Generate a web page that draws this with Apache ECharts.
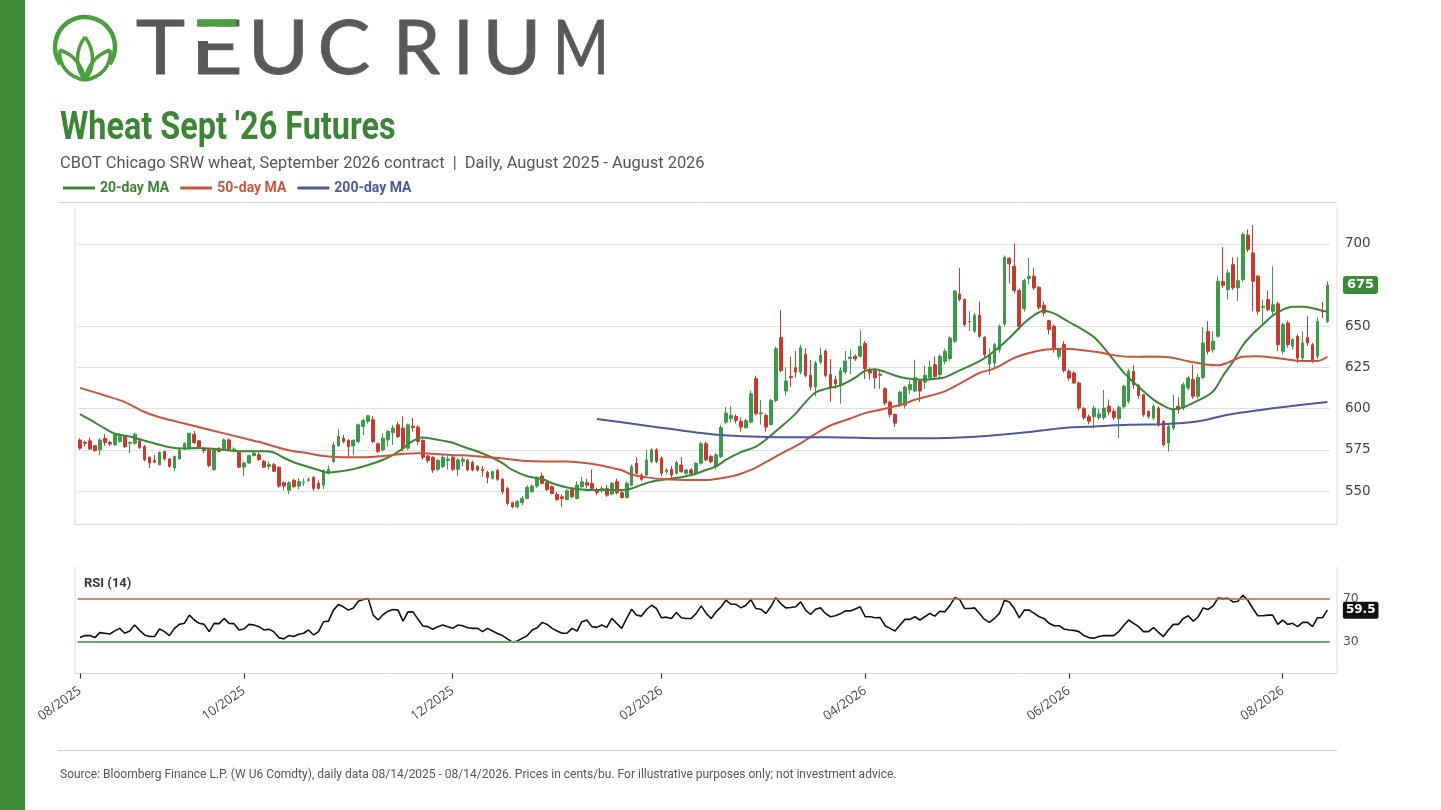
<!DOCTYPE html>
<html><head><meta charset="utf-8">
<script src="https://cdn.jsdelivr.net/npm/echarts@6/dist/echarts.min.js"></script>
<style>html,body{margin:0;padding:0;background:#fff}#c{width:1441px;height:810px}</style>
</head><body><div id="c"></div>
<script>
// ---------- data ----------
const startDate = '2025-08-14';
const endDate = '2026-08-14';
const holidays = ['2025-09-01','2025-11-27','2025-12-25','2026-01-01','2026-01-19','2026-02-16','2026-04-03','2026-05-25','2026-06-19','2026-07-03'];

const opens = [581,579.5,580.5,577.5,575,582,579.5,578,580,583,579,579,580.5,577,570.5,568.5,566,574,569.5,564,569.5,575.5,576,584.5,580.5,575.5,575,563,576,575,581,574.5,573.5,564.5,567,571.5,572,568,565,566,564.5,555,550.5,556.5,553,555,556.5,558.3,554.7,553.6,560.8,567.9,577.4,582.1,580.7,577.4,580.1,589.2,592.3,593.3,578.7,575,581.1,585.6,590.2,588.2,576,589.4,588.8,580.7,571.3,570.5,563.2,564.8,568.5,570.5,563.2,568,568.5,567.3,564.8,563.2,561.2,557.7,562.4,557.1,551.6,542.9,540.4,542.9,545.5,549.6,553,559.1,555.1,552.6,548,546.5,544.9,551,545.5,552.6,555.1,554.7,551,550.6,551.6,548.1,555.7,549,546.1,553.6,566.9,559.7,559.7,567.9,575,569.9,561.8,563.2,560.8,565.8,560.8,562.8,560.8,566.9,578.7,571,565,571,591.8,593.9,595.3,592.4,588.4,591.8,618.2,596.9,595.9,590.4,605,643.1,610.7,619.6,624.9,622.2,633,620.2,613.1,628.3,635,620.8,617.6,614.1,622.2,630.5,631.8,631.8,639.5,623.6,623.2,620.2,612.1,604,596.5,602,602,611.5,610.7,616.8,616.1,618.8,626.7,620.7,628.7,630.4,640.9,669.6,666.2,652.6,647,656.7,643.3,627.1,627.7,635.8,651.4,691.1,686.4,671.7,660.7,679,680.4,673.7,662.8,653.4,650,631.8,638.9,622.7,621.7,615.6,600,595.1,595.1,594.7,594.7,601.4,598.4,593.9,601.2,604.5,622.6,614,608.5,598.3,594.3,600.4,592.3,579.1,588.2,601.4,600.4,612.5,617.6,607.5,619,646.9,635.8,643.9,677.3,672.3,687.4,673.3,678.3,705.3,694.5,680.4,661.5,666.2,659.1,663.6,634.8,652,637.8,643.9,630.7,643.3,638.8,631.8,659.1,653];
const closes = [576,579,575.5,574.5,581,579.5,578.5,584,583,577,579.5,584.5,576.5,569,567,567.5,573.5,569.5,565,571,575,579,585,579.5,576.5,574.5,565.5,575,574,581,575,575.5,564.5,567,571.5,573,569,564.5,566,562,553,553,555,552.7,555.7,555.5,557,551.6,551.6,562.4,563.2,578,583.1,580.1,577,580.7,590.2,592.9,595.7,580.1,574,582.1,586.2,588.2,583.1,576,590.2,588.6,580.1,570.5,568.5,562.8,568.5,570.5,569.4,563.2,568.9,569.3,562.8,562.8,562.8,562.4,558.3,561.8,557.1,549.6,542.5,540.4,543.5,545.5,552.2,553,558.3,554.7,551,548.5,544.9,545.5,550.2,546.5,553.6,555.7,553.6,551.6,549,551.6,547.5,554.7,549,546.1,554.7,564.8,560.8,557.1,568.9,575,567.9,560.8,562.8,559.7,567.3,561.8,562.8,560.8,566.9,578.7,568.9,567.9,572,588.5,597.3,595.9,592.8,588.8,592.8,609.1,596.9,597.5,588.8,605,636.4,623.2,616.8,618.8,622.2,637,620.2,613.1,627.7,632.4,620.2,613.1,615.1,623.2,628.9,631.3,630.3,637.8,624.3,621.6,618.8,621,603.4,596.5,591.2,610.1,613.1,614.7,618.8,610.7,620.2,625.3,619.6,631.8,634.8,642.9,671.3,666.2,651,653,656.7,643.9,632.8,632.8,638.9,650,691.9,687.9,671.7,650,677.7,680.4,673.3,661.5,658.1,648,635.8,635.8,623.1,618.6,615.6,600.4,594.7,592.3,600.4,596.8,600.4,598,594.7,600.8,613.6,622.7,614.5,608,596.3,595.3,601.4,590.2,578.1,589.2,599.4,599.4,614.5,618.6,607.5,619,639.9,634.8,640.9,677.3,674.9,682.4,673.3,677.7,705.7,696.6,677.3,659.1,662.1,660.1,663.1,638.8,651,638.8,641.9,630.7,639.9,639.9,628.7,653,658.7,675];
const lows = [575,577,575,574,572,577.5,577.5,577.5,579.5,576,573,578,575.5,568,564,567,565.5,568.5,564,562,569,575,575.5,578.5,575.5,573,564.5,562.5,573.5,574.5,574.5,574,564,559,566.5,571,568.5,564,563,561.5,552,550.5,548,552,551,553,555.5,550,551,551,560,567,577,579,570.5,572,579,584,591,579,573,574,577,578,582,574,575,586,578,569,567,561,562,564,563,562,559,565,562,562,561.8,558.7,554.7,557,556,548,541.5,539.5,539.5,541.5,545,549,552,554,550,548,544,540.4,544.5,545.5,545,552,552,550.5,547.5,549,546.5,547.5,548,545.5,545.5,553,560,556,559,567,567,559,560.5,557,560,561,560,559,560,566,568,566.9,563,570,590.8,591.8,591,586,588,591,596,590.4,586,590,604,622,608,613.1,618.8,621,619,611,607.5,627,619,604,612,603,621,621,629,631,618,617.6,612,612,602,594.5,589,601,600,609,610,604,612,617,618.6,618,627,629,640,665.2,650,647,646,643,631,620.7,624,634,650,676,670,648,659,675.3,672,660,656,645,634,630,622,617,615,599,593,590.5,588,593,593,596,593,582.2,600,603,612,606,595,594,593,589,577,574,587,597,599,611,606,606,618,633,634,643,673.3,666.2,672,665.2,677,695,659.1,657,650,659,657.1,634.8,633,637,636,627.7,629,638,627.7,630,655,652];
const highs = [582,580.5,582.5,578,582,584.5,580.5,585,585,584,580,585.5,581.5,578,571,572,574,574.5,570,571.5,576,579.5,585.5,586.5,581,576.5,576,576,576.5,582,582,576.5,574,568,572,574,573.5,569,568,567,565,556,556,557.5,558,557.7,558.3,559,556.5,563,565.5,580,587.5,584,581.5,581.5,591,594,596,595.5,579.5,585,587,590,592,595.5,591,594.3,590,582.5,572,571,569.5,572.5,571.5,572.5,570,571,569.5,568.5,565.8,565.2,562.4,562.4,563.6,558,552.6,543.5,544.5,547,553.5,554,559,561.2,556,553.5,549.5,548,551,552,556,558.7,557.5,563.2,552,553,553.5,555.5,557.5,550,556,566,570.5,561,575,576,576,571,564,565,568.5,570.5,563.5,564,567.5,580,580,572,573,590,600.9,601.4,596.5,594.5,594,611,620,605.4,597,606,637.5,659.7,625,631.4,635,638.5,636.5,629.5,629,637,636,630,620,625,635,635.8,633,647.6,641,625,624,623,613,605,597,611,614,617,629.7,618,626,629,631.8,633,636.5,644,672,685.4,667,659.1,658,665.2,644,636.5,640,651,693,692,700.4,673,679,691.5,685.4,674.5,665,654,651,637,641,624,622.5,616.5,601,596.5,602,600,611.5,605.5,600,602,614.5,624,626.5,615,609,599,602.5,601.5,593,590,608.5,606.9,616,620,626.7,621,649.4,653,646.9,680,698,684.4,691.9,691.9,707,708.7,711.3,681,666.2,671.7,686.4,665,652,653.4,643,645,646.9,656.1,640,655.4,664.8,677.3];

const ma20Idx = [0,2,5,7,10,13,15,18,21,24,26,29,32,35,37,39,41,43,45,48,50,52,55,58,61,63,65,67,69,70,73,75,77,80,83,85,87,90,93,95,98,101,103,106,109,111,113,115,118,121,123,126,128,130,133,136,138,141,144,146,148,150,153,156,158,160,162,165,167,170,172,174,177,181,184,187,190,192,194,196,199,202,204,206,208,210,212,214,216,218,220,222,224,226,228,230,232,234,236,238,240,242,244,246,248,250,251];
const ma20 = [596.7,593.3,588,584.8,583.1,580.5,578.9,576.6,575.8,576.1,575.8,575,574.2,574.2,574.2,573.4,570.2,567.5,565.5,562.8,561.2,561.8,563.3,565.8,569,571.9,576,580.5,582.5,582.2,580.6,579.3,577,574,570.2,567,562.8,559,557.3,554.7,552.2,550.9,550.6,550.6,550.6,551.6,553.8,555.7,557.1,558.4,559.7,562.8,565,569,573.6,577,581.2,588.8,597,604,609.8,612,614.1,618.8,623,623.9,622.3,619.2,618.2,617.6,618.2,619,623.2,628.8,635,642.9,652,656.8,659.5,657.8,652.6,647.5,643.5,637,629.5,622,616,610.5,605.5,601.8,599.6,600.8,603.5,606.5,610.5,620,628.5,638.5,645.5,651,656.5,660,661.8,661.8,661,659.5,659];
const ma50Idx = [0,5,9,13,17,21,25,29,33,37,40,43,45,49,53,57,61,65,68,71,75,79,83,86,89,93,98,102,106,109,111,114,118,122,126,128,132,135,138,141,145,148,151,155,158,161,165,168,171,174,178,181,184,188,191,194,198,201,205,208,211,215,219,223,227,229,231,234,237,240,243,246,249,251];
const ma50 = [612.6,608,604,598,594,591,588,585,582,579,576.3,574.2,573.4,571.3,570.5,570.5,571.3,572.6,573,572.6,571.9,571.3,570.3,569.4,568.4,567.9,567.9,566.9,564.8,562.6,560,558.3,557.1,556.7,556.7,557.3,559.6,562.8,567.6,572.6,579,584.7,589.8,594,597.3,599.3,602.2,605.4,607.8,610.5,616.8,621.7,624.5,630.8,633.8,635.7,636.4,635.8,634.2,632.4,631.5,631.6,631.2,628.8,626.6,626.3,628,631.5,631.8,631,629.8,629,629,631.5];
const ma200Idx = [104,109,114,119,124,129,135,141,151,161,171,178,184,191,198,205,211,218,225,231,238,245,251];
const ma200 = [593.7,591.7,589.6,587.6,585.6,584,583.1,582.7,582.7,582.1,582,582.6,583.8,585.8,588.3,589.3,590.3,590.6,592.3,596.3,599.4,602,604];

const rsi = [33.7,35.6,35.6,33.7,38.4,37.8,37.1,40.0,42.4,37.8,39.9,45.5,40.5,36.2,34.7,34.7,41.8,39.3,35.6,42.4,46.1,47.1,54.8,50.2,47.1,46.1,39.3,47.1,46.8,51.7,47.1,46.8,40.9,41.8,46.1,45.5,44.0,40.9,41.5,39.3,33.7,32.5,35.6,34.7,36.8,37.8,40.9,36.2,39.3,48.6,49.2,59.5,64.7,62.6,59.5,61.6,67.8,69.4,70.3,54.8,50.2,55.4,58.5,60.1,59.5,49.2,57.9,57.9,51.1,44.6,44.0,41.5,44.0,45.5,44.0,42.4,45.5,44.9,43.0,42.4,42.4,39.3,42.4,39.9,37.5,35.6,32.5,29.4,30.6,33.1,35.6,40.9,43.0,48.0,46.1,42.4,39.9,37.8,37.8,42.4,39.9,48.6,50.2,44.0,43.3,45.5,43.3,51.7,47.1,42.4,51.7,60.4,54.8,53.9,60.1,64.1,61.0,52.3,52.9,51.7,57.3,52.3,51.7,51.7,56.4,63.5,56.4,51.7,57.9,62.6,68.8,65.0,65.0,61.6,64.1,69.4,61.0,60.4,56.4,62.6,71.2,65.7,61.6,61.9,62.6,67.2,59.5,55.4,60.4,61.6,56.4,53.3,54.2,56.0,58.8,58.8,60.5,62.6,53.3,53.3,52.3,52.5,44.9,42.4,39.9,45.5,50.8,50.8,53.3,50.2,53.3,56.4,53.9,58.5,57.9,63.5,71.2,69.7,61.0,61.0,61.6,56.4,50.8,48.0,51.7,56.4,68.8,67.2,61.0,52.3,59.5,59.5,56.4,53.3,51.7,47.1,44.9,44.9,41.8,40.9,40.5,39.3,35.6,33.7,33.1,34.7,35.6,35.6,35.6,39.3,45.0,50.2,47.1,44.0,39.3,39.3,43.0,38.7,34.7,40.9,46.1,46.1,51.7,54.2,49.2,53.3,61.6,60.1,63.5,70.9,70.3,70.6,67.2,67.8,73.4,68.8,61.0,54.2,54.2,54.8,54.8,46.1,50.2,46.1,47.1,44.0,48.0,48.0,44.0,52.3,52.3,59.5];

const priceTicks = [550, 575, 600, 625, 650, 700];
const rsiLevels = [70, 30];
const rsiTicks = [30, 70];

// ---------- build ----------
function tradingDays(s, e, hol) {
  const out = [];
  const d = new Date(s + 'T00:00:00Z');
  const end = new Date(e + 'T00:00:00Z');
  while (d <= end) {
    const wd = d.getUTCDay();
    const iso = d.toISOString().slice(0, 10);
    if (wd !== 0 && wd !== 6 && hol.indexOf(iso) < 0) out.push(iso);
    d.setUTCDate(d.getUTCDate() + 1);
  }
  return out;
}
const dates = tradingDays(startDate, endDate, holidays);
const candles = dates.map((_, i) => [opens[i], closes[i], lows[i], highs[i]]);
const pair = (idx, vals) => idx.map((x, k) => [x, vals[k]]);

function isLabelDay(i) {
  if (i === 0) return true;
  const m = +dates[i].slice(5, 7);
  return m % 2 === 0 && dates[i - 1].slice(5, 7) !== dates[i].slice(5, 7);
}
const fmtMonth = v => v.slice(5, 7) + '/' + v.slice(0, 4);

const UP = '#3c9a4a', DOWN = '#c63b2e';
const C20 = '#3b8634', C50 = '#c9553f', C200 = '#4b5a9e';
const GREEN = '#3e8b37', LEAF = '#4c9e3f';
const FRAME = '#d9d9d9';
const LOGO_GRAY = '#58595b';

const chart = echarts.init(document.getElementById('c'), null, { renderer: 'canvas' });

const letters = [
  ['T', 160.5, 1.1], ['E', 216.5, 1.2], ['U', 278.5, 1.1], ['C', 344, 1.04],
  ['R', 416.5, 1], ['I', 463.5, 1], ['U', 512, 1.06], ['M', 581, 0.8]
];

function leaf(x0, y0, c1x, c1y, c2x, c2y, tx, ty, d1x, d1y, d2x, d2y) {
  return [
    { type: 'bezierCurve', shape: { x1: x0, y1: y0, cpx1: c1x, cpy1: c1y, cpx2: c2x, cpy2: c2y, x2: tx, y2: ty }, style: { stroke: LEAF, lineWidth: 3.5, fill: null } },
    { type: 'bezierCurve', shape: { x1: tx, y1: ty, cpx1: d1x, cpy1: d1y, cpx2: d2x, cpy2: d2y, x2: x0, y2: y0 }, style: { stroke: LEAF, lineWidth: 3.5, fill: null } }
  ];
}

const graphics = [
  { type: 'rect', shape: { x: 0, y: 0, width: 25, height: 810 }, style: { fill: GREEN } },
  // logo mark
  { type: 'arc', shape: { cx: 85, cy: 47, r: 30, startAngle: Math.PI * 145 / 180, endAngle: Math.PI * 395 / 180, clockwise: true }, style: { stroke: LEAF, lineWidth: 4.5, fill: null } },
  ...leaf(85, 80, 75, 68, 75, 50, 85, 37, 95, 50, 95, 68),
  ...leaf(85, 80, 70, 78, 58, 66, 60, 50, 72, 54, 82, 64),
  ...leaf(85, 80, 100, 78, 112, 66, 110, 50, 98, 54, 88, 64),
  // separators and plot frames
  { type: 'line', shape: { x1: 58, y1: 202.5, x2: 1337, y2: 202.5 }, style: { stroke: '#d6d6d6', lineWidth: 1 } },
  { type: 'polyline', z: -1, shape: { points: [[75, 208], [75, 524.5], [1337, 524.5], [1337, 208]] }, style: { stroke: FRAME, fill: null, lineWidth: 1 } },
  { type: 'polyline', z: -1, shape: { points: [[75, 567], [75, 673.5], [1337, 673.5], [1337, 567]] }, style: { stroke: FRAME, fill: null, lineWidth: 1 } },
  // titles
  { type: 'text', x: 60, y: 129.5, scaleX: 0.83, style: { text: "Wheat Sept '26 Futures", font: 'bold 39px Roboto', fill: '#3b8535', verticalAlign: 'middle', textVerticalAlign: 'middle' } },
  { type: 'text', x: 60, y: 163.5, style: { text: 'CBOT Chicago SRW wheat, September 2026 contract  |  Daily, August 2025 - August 2026', font: '16.4px Roboto', fill: '#555', verticalAlign: 'middle', textVerticalAlign: 'middle' } },
  { type: 'text', x: 84, y: 584, style: { text: 'RSI (14)', font: 'bold 13px Roboto', fill: '#2e3a46', verticalAlign: 'middle', textVerticalAlign: 'middle' } },
  { type: 'line', shape: { x1: 58, y1: 750.5, x2: 1337, y2: 750.5 }, style: { stroke: '#cfcfcf', lineWidth: 1 } },
  { type: 'text', x: 60, y: 775, style: { text: 'Source: Bloomberg Finance L.P. (W U6 Comdty), daily data 08/14/2025 - 08/14/2026. Prices in cents/bu. For illustrative purposes only; not investment advice.', font: '12px Roboto', fill: '#555', verticalAlign: 'middle', textVerticalAlign: 'middle' } }
];
letters.forEach(([ch, cx, sx]) => {
  graphics.push({ type: 'text', x: cx, y: 49.5, scaleX: sx, style: { text: ch, font: '400 76px Lato', fill: LOGO_GRAY, stroke: LOGO_GRAY, lineWidth: 0.8, align: 'center', textAlign: 'center', verticalAlign: 'middle', textVerticalAlign: 'middle' } });
});
// E of the wordmark: green top bar, open upper stem
graphics.push({ type: 'rect', z: 10, shape: { x: 193, y: 26.5, width: 22, height: 14.5 }, style: { fill: '#fff' } });
graphics.push({ type: 'rect', z: 11, shape: { x: 197, y: 19.5, width: 39, height: 7 }, style: { fill: LEAF } });

const lastClose = closes[closes.length - 1];
const lastRsi = rsi[rsi.length - 1];

const option = {
  animation: false,
  backgroundColor: '#fff',
  graphic: { elements: graphics },
  legend: {
    left: 58, top: 176, itemWidth: 32, itemHeight: 3, itemGap: 11, icon: 'rect', selectedMode: false,
    textStyle: { fontFamily: 'Roboto', fontWeight: 'bold', fontSize: 14 },
    data: [
      { name: '20-day MA', textStyle: { color: C20 } },
      { name: '50-day MA', textStyle: { color: C50 } },
      { name: '200-day MA', textStyle: { color: C200 } }
    ]
  },
  grid: [
    { left: 77.5, right: 111.1, top: 206, height: 318, containLabel: false },
    { left: 77.5, right: 111.1, top: 567, height: 106.5, containLabel: false }
  ],
  xAxis: [
    { type: 'category', gridIndex: 0, data: dates, boundaryGap: true,
      axisLine: { show: false }, axisTick: { show: false }, axisLabel: { show: false }, splitLine: { show: false } },
    { type: 'category', gridIndex: 1, data: dates, boundaryGap: true,
      axisLine: { show: false },
      axisTick: { show: true, alignWithLabel: true, interval: (i) => isLabelDay(i), length: 5, lineStyle: { color: '#333', width: 1.2 } },
      axisLabel: { interval: (i) => isLabelDay(i), formatter: fmtMonth, rotate: 35, margin: 16,
        fontFamily: 'Open Sans', fontSize: 13, color: '#4a4a4a' },
      splitLine: { show: false } }
  ],
  yAxis: [
    { type: 'value', gridIndex: 0, position: 'right', min: 530, max: 723,
      axisLine: { show: false },
      axisTick: { show: false, customValues: priceTicks },
      axisLabel: { customValues: priceTicks, margin: 15, fontFamily: 'DejaVu Sans', fontSize: 13.5, color: '#444' },
      splitLine: { show: true, lineStyle: { color: '#e1e1e1', width: 1 } } },
    { type: 'value', gridIndex: 1, position: 'right', min: 0, max: 100,
      axisLine: { show: false },
      axisTick: { show: false, customValues: rsiTicks },
      axisLabel: { customValues: rsiTicks, margin: 13, fontFamily: 'DejaVu Sans', fontSize: 12.5, color: '#555' },
      splitLine: { show: false } }
  ],
  series: [
    { name: 'W U6', type: 'candlestick', xAxisIndex: 0, yAxisIndex: 0, data: candles, barWidth: 3.2,
      itemStyle: { color: UP, color0: DOWN, borderColor: UP, borderColor0: DOWN, borderWidth: 1 },
      markLine: {
        silent: true, symbol: ['none', 'none'], animation: false,
        lineStyle: { color: 'rgba(0,0,0,0)' },
        label: { show: true, position: 'end', distance: 13, formatter: p => String(p.value),
          backgroundColor: '#3a8a3a', color: '#fff', fontWeight: 'bold', fontSize: 13, fontFamily: 'DejaVu Sans',
          padding: [3, 4, 2, 4], borderRadius: 3 },
        data: [{ yAxis: lastClose }]
      } },
    { name: '20-day MA', type: 'line', xAxisIndex: 0, yAxisIndex: 0, data: pair(ma20Idx, ma20), smooth: 0.35,
      showSymbol: false, color: C20, lineStyle: { color: C20, width: 2 }, itemStyle: { color: C20 }, z: 3 },
    { name: '50-day MA', type: 'line', xAxisIndex: 0, yAxisIndex: 0, data: pair(ma50Idx, ma50), smooth: 0.35,
      showSymbol: false, color: C50, lineStyle: { color: C50, width: 2 }, itemStyle: { color: C50 }, z: 3 },
    { name: '200-day MA', type: 'line', xAxisIndex: 0, yAxisIndex: 0, data: pair(ma200Idx, ma200), smooth: 0.35,
      showSymbol: false, color: C200, lineStyle: { color: C200, width: 2 }, itemStyle: { color: C200 }, z: 3 },
    { name: 'RSI (14)', type: 'line', xAxisIndex: 1, yAxisIndex: 1, data: rsi, showSymbol: false,
      lineStyle: { color: '#111', width: 1.6 }, itemStyle: { color: '#111' }, z: 4,
      markLine: {
        silent: true, symbol: ['none', 'none'], animation: false,
        label: { show: false },
        data: [
          { yAxis: rsiLevels[0], lineStyle: { color: '#d65a50', width: 1.6, type: 'solid' } },
          { yAxis: rsiLevels[1], lineStyle: { color: '#6aaa6a', width: 2, type: 'solid' } },
          { yAxis: lastRsi, lineStyle: { color: 'rgba(0,0,0,0)' },
            label: { show: true, position: 'end', distance: 13, formatter: p => p.value.toFixed(1),
              backgroundColor: '#111', color: '#fff', fontWeight: 'bold', fontSize: 12, fontFamily: 'DejaVu Sans',
              padding: [3, 3, 2, 3], borderRadius: 2 } }
        ]
      } }
  ]
};
chart.setOption(option);
</script>
</body></html>
